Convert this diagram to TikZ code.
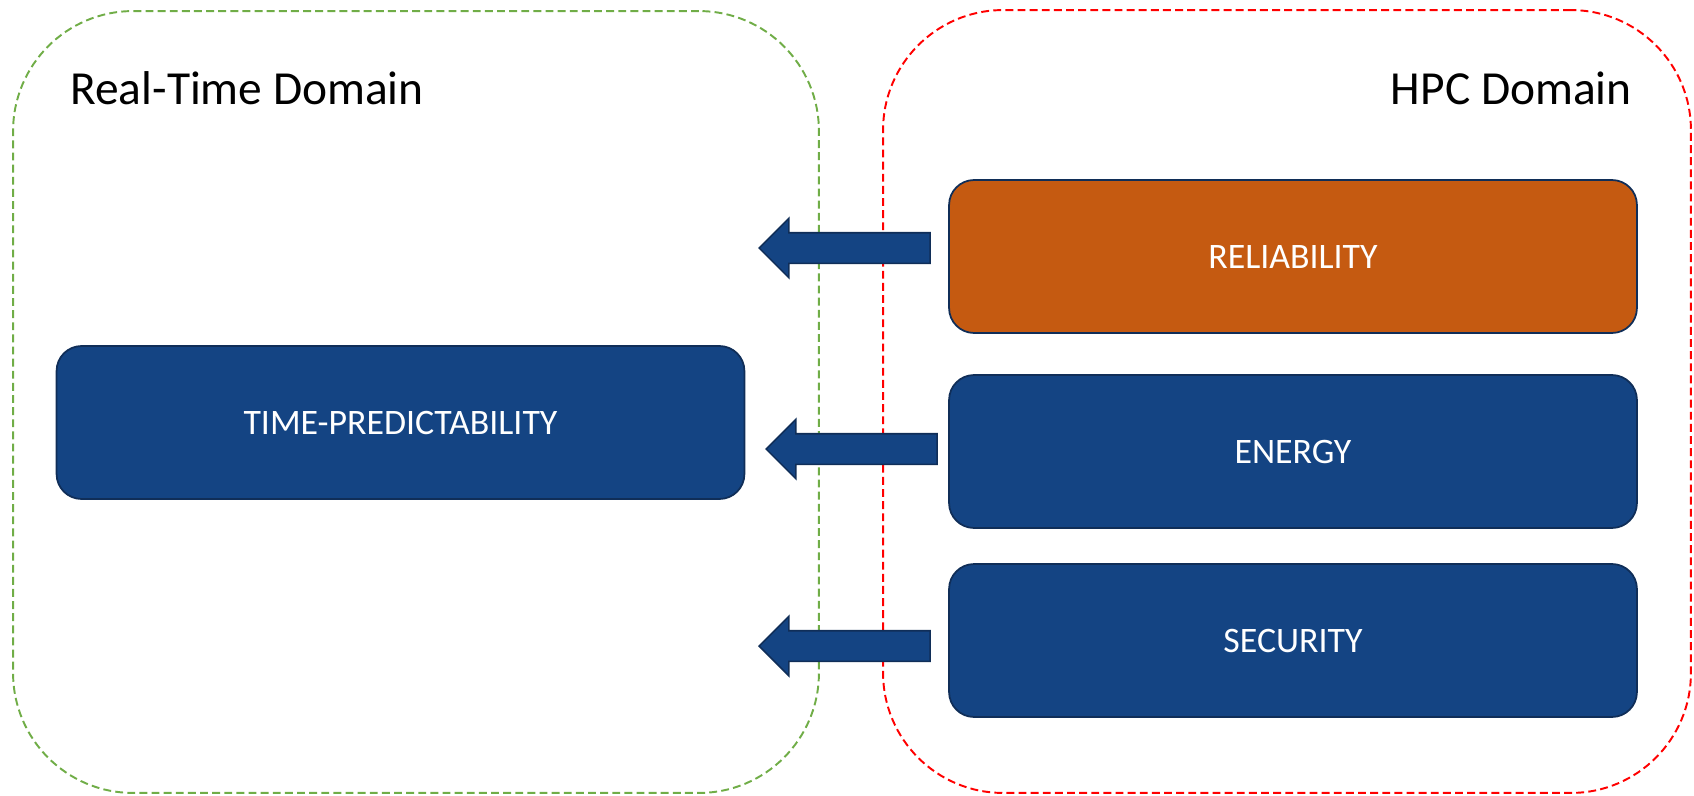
\documentclass[tikz,border=0pt]{standalone}
\usepackage{fontspec}
\setmainfont{Carlito}
\usetikzlibrary{shapes.arrows}
\definecolor{boxblue}{RGB}{20,68,131}
\definecolor{boxedge}{RGB}{16,46,88}
\definecolor{rust}{RGB}{197,90,17}
\definecolor{rtgreen}{RGB}{112,173,71}
\definecolor{hpcred}{RGB}{255,0,0}
\tikzset{
  domainbox/.style={draw, line width=1.1pt, dash pattern=on 4.5pt off 2.4pt,
    rectangle, rounded corners=2.4cm, inner sep=0pt},
  domlabel/.style={inner sep=0pt, font=\fontsize{27}{32}\selectfont},
  topicbox/.style={draw=boxedge, line width=1pt, fill=boxblue, rectangle,
    rounded corners=0.5cm, minimum width=13.76cm, minimum height=3.06cm,
    text=white, font=\fontsize{20.4}{24}\selectfont},
  flowarrow/.style={single arrow, draw=boxedge, line width=0.9pt, fill=boxblue,
    shape border rotate=180, minimum height=3.42cm, minimum width=1.16cm,
    single arrow head extend=0.29cm, inner xsep=0pt, inner ysep=0.29cm,
    anchor=tip}
}
\begin{document}
\begin{tikzpicture}[x=0.02cm, y=-0.02cm]
  \useasboundingbox (0,0) rectangle (1694,795);

  % the two domains
  \node[domainbox, draw=rtgreen, minimum width=16.12cm, minimum height=15.64cm] (rt) at (416,402) {};
  \node[domainbox, draw=hpcred, minimum width=16.16cm, minimum height=15.66cm] (hpc) at (1287,401.5) {};
  \node[domlabel, anchor=base west] (rtlabel) at (70,104) {Real-Time Domain};
  \node[domlabel, anchor=base east] (hpclabel) at (1632,104) {HPC Domain};

  % properties
  \node[topicbox] (tp) at (400.5,422.5) {TIME-PREDICTABILITY};
  \node[topicbox, fill=rust] (rel) at (1293,256.5) {RELIABILITY};
  \node[topicbox] (en) at (1293,451.5) {ENERGY};
  \node[topicbox] (sec) at (1293,640.5) {SECURITY};

  % transfer from HPC to real-time
  \node[flowarrow] (a1) at (758,248) {};
  \node[flowarrow] (a2) at (765,449) {};
  \node[flowarrow] (a3) at (758,646) {};
\end{tikzpicture}
\end{document}
